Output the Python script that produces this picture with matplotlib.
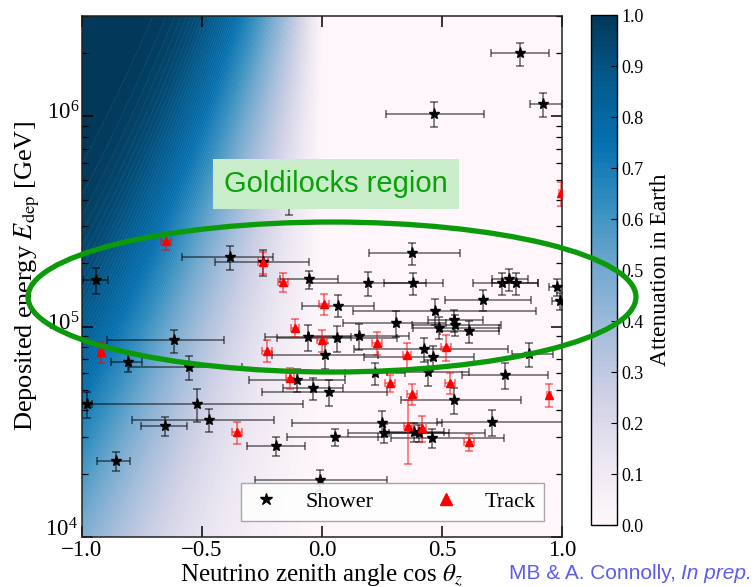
import numpy as np
import matplotlib
matplotlib.use("Agg")
import matplotlib.pyplot as plt
from matplotlib.patches import Ellipse
from matplotlib.lines import Line2D
from matplotlib.transforms import ScaledTranslation

plt.rcParams['font.family'] = ['Liberation Serif', 'DejaVu Serif']
plt.rcParams['mathtext.fontset'] = 'stix'

# ---------------- data ----------------
# Showers: cos(zenith), deposited energy [GeV], x-error low/high, relative energy error
shower_cz = [0.825, 0.467, 0.921, -0.138, -0.383, -0.246, -0.054, 0.192, 0.379, 0.375,
             -0.942, 0.067, 0.671, 0.471, 0.75, 0.779, 0.808, 0.979, 0.992, 0.55,
             0.554, 0.613, 0.488, 0.308, 0.154, -0.058, 0.063, 0.013, 0.425, 0.463,
             0.863, 0.763, 0.442, 0.221, -0.617, -0.808, -0.554, -0.104, -0.038, 0.029,
             -0.979, -0.521, -0.471, -0.654, -0.192, -0.858, -0.008, 0.25, 0.258, 0.054,
             0.383, 0.404, 0.458, 0.708, 0.55]
shower_E = [1.99e6, 1.03e6, 1.14e6, 4.08e5, 2.14e5, 2.02e5, 1.68e5, 1.61e5, 1.61e5, 2.23e5,
            1.66e5, 1.26e5, 1.34e5, 1.19e5, 1.61e5, 1.68e5, 1.61e5, 1.54e5, 1.32e5, 1.07e5,
            1.02e5, 9.5e4, 9.9e4, 1.04e5, 9.0e4, 8.9e4, 8.8e4, 7.3e4, 7.8e4, 7.2e4,
            7.4e4, 5.9e4, 6.1e4, 6.0e4, 8.6e4, 6.8e4, 6.4e4, 5.6e4, 5.1e4, 4.9e4,
            4.3e4, 4.3e4, 3.6e4, 3.37e4, 2.71e4, 2.30e4, 1.87e4, 3.48e4, 3.12e4, 2.99e4,
            3.15e4, 3.12e4, 2.95e4, 3.52e4, 4.48e4]
shower_xlo = [0.12, 0.20, 0.055, 0.125, 0.20, 0.20, 0.12, 0.24, 0.12, 0.18,
              0.055, 0.15, 0.16, 0.34, 0.12, 0.07, 0.10, 0.033, 0.033, 0.11,
              0.18, 0.12, 0.11, 0.22, 0.21, 0.18, 0.25, 0.22, 0.29, 0.29,
              0.07, 0.18, 0.17, 0.125, 0.28, 0.07, 0.25, 0.20, 0.125, 0.28,
              0.02, 0.48, 0.32, 0.10, 0.12, 0.08, 0.27, 0.375, 0.15, 0.20,
              0.125, 0.125, 0.17, 0.23, 0.22]
shower_xhi = [0.12, 0.21, 0.08, 0.125, 0.18, 0.19, 0.12, 0.24, 0.125, 0.20,
              0.05, 0.15, 0.20, 0.42, 0.15, 0.08, 0.09, 0.033, 0.033, 0.12,
              0.19, 0.125, 0.25, 0.21, 0.21, 0.18, 0.25, 0.22, 0.35, 0.17,
              0.10, 0.18, 0.17, 0.125, 0.21, 0.06, 0.22, 0.20, 0.125, 0.24,
              0.02, 0.44, 0.27, 0.09, 0.12, 0.06, 0.28, 0.25, 0.42, 0.18,
              0.125, 0.125, 0.30, 0.33, 0.28]
shower_dE = [0.127, 0.14, 0.127, 0.167, 0.127, 0.14, 0.10, 0.127, 0.117, 0.117,
             0.14, 0.117, 0.117, 0.14, 0.117, 0.117, 0.117, 0.09, 0.09, 0.117,
             0.117, 0.117, 0.117, 0.14, 0.14, 0.14, 0.14, 0.14, 0.127, 0.127,
             0.127, 0.14, 0.14, 0.117, 0.127, 0.10, 0.127, 0.127, 0.117, 0.14,
             0.14, 0.18, 0.127, 0.10, 0.10, 0.10, 0.117, 0.14, 0.10, 0.09,
             0.10, 0.09, 0.10, 0.14, 0.14]

# Tracks: cos(zenith), energy, x-error, relative energy error up / down
track_cz = [-0.65, -0.246, -0.163, 0.008, -0.113, 0.0, 0.229, -0.229, -0.921, -0.133,
            0.283, 0.354, 0.517, 0.533, 0.375, 0.946, 0.358, 0.417, 0.613, -0.354, 0.996]
track_E = [2.55e5, 2.02e5, 1.63e5, 1.28e5, 9.9e4, 8.6e4, 8.4e4, 7.7e4, 7.6e4, 5.7e4,
           5.4e4, 7.3e4, 8.0e4, 5.4e4, 4.78e4, 4.73e4, 3.37e4, 3.30e4, 2.83e4, 3.15e4, 4.31e5]
track_xerr = [0.02, 0.02, 0.02, 0.02, 0.017, 0.02, 0.02, 0.02, 0.012, 0.017,
              0.02, 0.017, 0.02, 0.02, 0.02, 0.008, 0.017, 0.017, 0.02, 0.02, 0.008]
track_dE_up = [0.09, 0.117, 0.10, 0.117, 0.10, 0.117, 0.127, 0.117, 0.117, 0.117,
               0.09, 0.15, 0.14, 0.117, 0.117, 0.127, 0.33, 0.14, 0.09, 0.117, 0.127]
track_dE_dn = [0.09, 0.117, 0.10, 0.117, 0.10, 0.117, 0.127, 0.117, 0.117, 0.117,
               0.09, 0.15, 0.14, 0.117, 0.117, 0.127, 0.34, 0.14, 0.09, 0.117, 0.127]

xticks = [-1.0, -0.5, 0.0, 0.5, 1.0]
cbar_ticks = [0.0, 0.1, 0.2, 0.3, 0.4, 0.5, 0.6, 0.7, 0.8, 0.9, 1.0]

# ---------------- background: Earth attenuation model ----------------
R_earth = 6371.0          # km
rho_center = 13.0         # g/cm^3
rho_surface = 3.0         # g/cm^3
L_int_1e4 = 1.9e10        # interaction length at 10 TeV [g/cm^2]
L_int_slope = 0.48

cz = np.linspace(-1, 1, 401)
logE = np.linspace(4, 6.5, 251)
L = np.where(cz < 0, -2 * R_earth * cz, 0.0)
t = np.linspace(0, 1, 600)
s = L[:, None] * t[None, :]
r2 = np.clip(R_earth**2 + s**2 + 2 * R_earth * s * cz[:, None], 0, None)
rho = rho_center - (rho_center - rho_surface) * r2 / R_earth**2
column = np.trapezoid(rho, s, axis=1) * 1e5
Lint = L_int_1e4 * (10**logE / 1e4) ** (-L_int_slope)
A = 1 - np.exp(-column[None, :] / Lint[:, None])
A = np.clip(A, 0, 0.9999)

# ---------------- figure ----------------
fig = plt.figure(figsize=(7.55, 5.87), dpi=100)
ax = fig.add_axes([0.1086, 0.0852, 0.6358, 0.8876])
cax = fig.add_axes([0.7828, 0.1056, 0.0344, 0.8688])

levels = np.linspace(0, 1, 101)
cf = ax.contourf(cz, 10**logE, A, levels=levels, cmap='PuBu', vmin=0, vmax=1, zorder=0)
ax.contour(cz, 10**logE, A, levels=levels[1:-1], colors='white', linewidths=0.25, alpha=0.18, zorder=0.5)

ax.set_yscale('log')
ax.set_xlim(-1, 1)
ax.set_ylim(1e4, 3e6)

sE = np.array(shower_E)
ax.errorbar(shower_cz, shower_E, xerr=[shower_xlo, shower_xhi], yerr=sE * np.array(shower_dE),
            fmt='none', ecolor='k', elinewidth=1.1, capsize=3, capthick=1.1, alpha=0.6, zorder=2)
ax.plot(shower_cz, shower_E, '*', color='k', ms=8, zorder=3, ls='none')

tE = np.array(track_E)
ax.errorbar(track_cz, track_E, xerr=track_xerr,
            yerr=[tE * np.array(track_dE_dn), tE * np.array(track_dE_up)],
            fmt='none', ecolor='red', elinewidth=1.1, capsize=3, capthick=1.1, alpha=0.6, zorder=2)
ax.plot(track_cz, track_E, '^', color='red', ms=6, mec='red', zorder=3, ls='none')

ax.set_xticks(xticks)
ax.tick_params(axis='both', which='both', direction='in', top=True, right=True)
ax.tick_params(axis='both', which='major', length=8, width=1.1, labelsize=16.5, pad=2)
ax.tick_params(axis='both', which='minor', length=4, width=0.9)
for sp in ax.spines.values():
    sp.set_linewidth(1.1)
    sp.set_color('#222222')

ax.set_xlabel(r'Neutrino zenith angle cos $\theta_z$', fontsize=18, labelpad=1)
ax.set_ylabel(r'Deposited energy $E_{\rm dep}$ [GeV]', fontsize=19, labelpad=2)

# nudge y tick labels slightly upward (as in the reference)
fig.canvas.draw()
up = ScaledTranslation(0, 4 / 72, fig.dpi_scale_trans)
up_more = ScaledTranslation(-1 / 72, 7 / 72, fig.dpi_scale_trans)
for tk in ax.yaxis.get_major_ticks():
    if abs(tk.get_loc() - 1e4) < 1:
        tk.label1.set_transform(tk.label1.get_transform() + up_more)
    else:
        tk.label1.set_transform(tk.label1.get_transform() + up)

handles = [Line2D([], [], marker='*', color='k', ls='none', ms=9),
           Line2D([], [], marker='^', color='red', ls='none', ms=9)]
leg = ax.legend(handles, ['Shower', 'Track'], loc='lower center', bbox_to_anchor=(0.647, 0.031),
                ncol=2, fontsize=16, frameon=True, fancybox=False, framealpha=0.85,
                edgecolor='#999999', columnspacing=2.5, handlelength=1.5, handletextpad=1.0,
                borderaxespad=0, borderpad=0.4)
leg.get_frame().set_linewidth(1.0)
leg.set_zorder(5)

ax.text(0.529, 0.678, 'Goldilocks region', transform=ax.transAxes, ha='center', va='center',
        fontsize=21, color='#0aa00a', family=['Liberation Sans', 'DejaVu Sans'], zorder=10,
        bbox=dict(boxstyle='square,pad=0.38', facecolor='#c9ecc9', edgecolor='none'))

cb = fig.colorbar(cf, cax=cax, ticks=cbar_ticks)
cb.ax.tick_params(labelsize=13, direction='in', length=4)
cb.set_label('Attenuation in Earth', fontsize=17)
cb.outline.set_linewidth(1.0)

ell = Ellipse((0.4397, 0.4940), 0.8053, 0.2555, transform=fig.transFigure, fill=False,
              edgecolor='#0a9a0a', linewidth=3.8, zorder=20, clip_on=False)
fig.add_artist(ell)

credit_color = '#5c5cf2'
t2 = fig.text(0.996, 0.014, 'In prep.', ha='right', va='baseline', fontsize=15, style='italic',
              color=credit_color, family=['Liberation Sans', 'DejaVu Sans'])
fig.canvas.draw()
bb = t2.get_window_extent(fig.canvas.get_renderer())
x_left = bb.x0 / fig.bbox.width
fig.text(x_left, 0.014, 'MB & A. Connolly, ', ha='right', va='baseline', fontsize=15,
         color=credit_color, family=['Liberation Sans', 'DejaVu Sans'])

fig.savefig('out.png', dpi=100)
